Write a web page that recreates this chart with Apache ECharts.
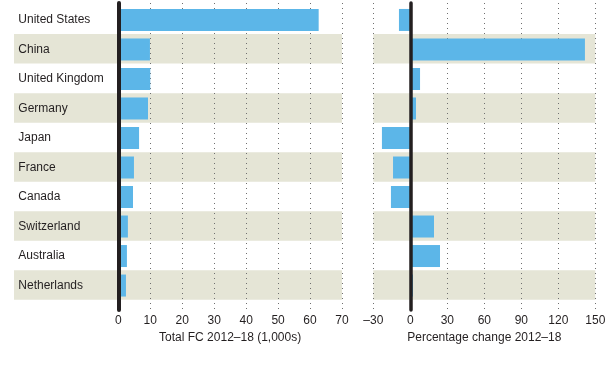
<!DOCTYPE html>
<html><head><meta charset="utf-8">
<script src="https://cdn.jsdelivr.net/npm/echarts@6/dist/echarts.min.js"></script>
<style>html,body{margin:0;padding:0;background:#fff}#c{width:614px;height:380px}</style>
</head><body><div id="c"></div>
<script>
const categories = ['United States','China','United Kingdom','Germany','Japan','France','Canada','Switzerland','Australia','Netherlands'];
const totalFC = [62.7, 9.9, 10.0, 9.3, 6.5, 4.9, 4.6, 3.0, 2.7, 2.4];
const pctChange = [-9.2, 141.6, 7.9, 4.6, -23, -14, -15.7, 19.2, 24.1, 2.2];
const leftTicks = {min: 0, max: 70, interval: 10};
const rightTicks = {min: -30, max: 150, interval: 30};
const leftTitle = 'Total FC 2012–18 (1,000s)';
const rightTitle = 'Percentage change 2012–18';

const FONT = 'Liberation Sans, Arial, sans-serif';
const TXT = '#231f20';
const BAND = '#e5e5d6';
const BAR = '#5cb6e8';

const chart = echarts.init(document.getElementById('c'), null, {renderer: 'canvas'});
const hiddenBits = {axisLine:{show:false}, axisTick:{show:false}, axisLabel:{show:false}, splitLine:{show:false}};
const fmt = v => String(v).replace('-', '–');

chart.setOption({
  animation: false,
  textStyle: {fontFamily: FONT},
  grid: [
    {left: 14, right: 272, top: 4.6, bottom: 80.3},
    {left: 118.3, right: 272, top: 5.2, bottom: 79.7},
    {left: 118.3, right: 272, top: 3, bottom: 70},
    {left: 373.3, right: 18.7, top: 4.6, bottom: 80.3},
    {left: 373.3, right: 18.7, top: 3, bottom: 70},
    {left: 373.3, right: 18.7, top: 5.2, bottom: 79.7}
  ],
  xAxis: [
    Object.assign({type:'value', gridIndex:0, min:0, max:1}, hiddenBits),
    Object.assign({type:'value', gridIndex:1, min:leftTicks.min, max:leftTicks.max, interval:leftTicks.interval}, hiddenBits),
    {type:'value', gridIndex:2, min:leftTicks.min, max:leftTicks.max, interval:leftTicks.interval, z:1,
     axisLine:{show:false}, axisTick:{show:false},
     axisLabel:{color:TXT, fontSize:12, margin:5, fontFamily:FONT, formatter: fmt},
     splitLine:{show:true, lineStyle:{color:'#6f6f6f', width:1, type:[1,4]}},
     name:leftTitle, nameLocation:'middle', nameGap:16, nameTextStyle:{color:TXT, fontSize:12, fontFamily:FONT}},
    Object.assign({type:'value', gridIndex:3, min:0, max:1}, hiddenBits),
    {type:'value', gridIndex:4, min:rightTicks.min, max:rightTicks.max, interval:rightTicks.interval, z:1,
     axisLine:{show:false}, axisTick:{show:false},
     axisLabel:{color:TXT, fontSize:12, margin:5, fontFamily:FONT, formatter: fmt},
     splitLine:{show:true, lineStyle:{color:'#6f6f6f', width:1, type:[1,4]}},
     name:rightTitle, nameLocation:'middle', nameGap:16, nameTextStyle:{color:TXT, fontSize:12, fontFamily:FONT}},
    Object.assign({type:'value', gridIndex:5, min:rightTicks.min, max:rightTicks.max, interval:rightTicks.interval}, hiddenBits)
  ],
  yAxis: [
    {type:'category', gridIndex:0, data:categories, inverse:true, z:0,
     axisLine:{show:false}, axisTick:{show:false}, axisLabel:{show:false}, splitLine:{show:false},
     splitArea:{show:true, areaStyle:{color:['rgba(0,0,0,0)', BAND]}}},
    {type:'category', gridIndex:1, data:categories, inverse:true, z:2,
     axisLine:{show:false}, axisTick:{show:false}, splitLine:{show:false},
     axisLabel:{color:TXT, fontSize:12, fontFamily:FONT, align:'left', margin:100}},
    {type:'value', gridIndex:2, min:0, max:1, z:5,
     axisTick:{show:false}, axisLabel:{show:false}, splitLine:{show:false},
     axisLine:{show:true, onZero:true, lineStyle:{color:TXT, width:4}}},
    {type:'category', gridIndex:3, data:categories, inverse:true, z:0,
     axisLine:{show:false}, axisTick:{show:false}, axisLabel:{show:false}, splitLine:{show:false},
     splitArea:{show:true, areaStyle:{color:['rgba(0,0,0,0)', BAND]}}},
    {type:'value', gridIndex:4, min:0, max:1, z:5,
     axisTick:{show:false}, axisLabel:{show:false}, splitLine:{show:false},
     axisLine:{show:true, onZero:true, lineStyle:{color:TXT, width:3.5}}},
    {type:'category', gridIndex:5, data:categories, inverse:true, z:2,
     axisLine:{show:false}, axisTick:{show:false}, axisLabel:{show:false}, splitLine:{show:false}}
  ],
  series: [
    {type:'bar', xAxisIndex:1, yAxisIndex:1, data: totalFC, barWidth:22, itemStyle:{color:BAR}, z:3, silent:true},
    {type:'bar', xAxisIndex:5, yAxisIndex:5, data: pctChange, barWidth:22, itemStyle:{color:BAR}, z:3, silent:true}
  ]
});
</script></body></html>
